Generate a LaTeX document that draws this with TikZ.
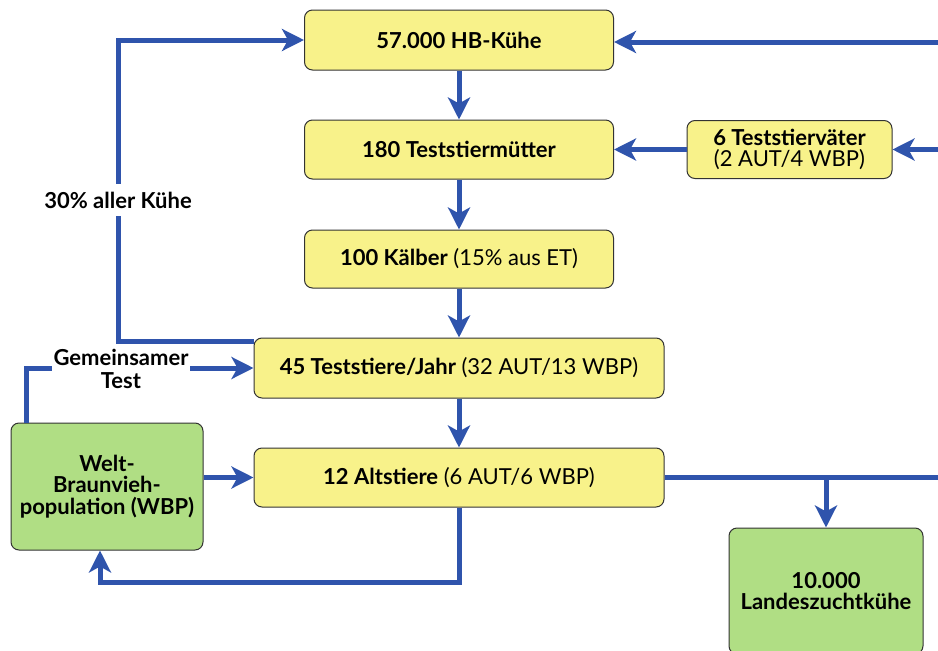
\documentclass[tikz,border=0pt]{standalone}
\usepackage{fontspec}
\setmainfont{Lato}
\usetikzlibrary{arrows.meta,positioning}
\definecolor{hbgelb}{RGB}{248,242,138}
\definecolor{hbgruen}{RGB}{176,222,132}
\definecolor{hbblau}{RGB}{47,84,172}

\begin{document}
\begin{tikzpicture}[x=1pt,y=-1pt,
    box/.style={draw=black!80, line width=1pt, rounded corners=8pt, fill=hbgelb,
      align=center, inner sep=0pt, font=\fontsize{22}{21}\selectfont},
    boldbox/.style={box, font=\fontsize{22}{21.5}\selectfont\bfseries},
    greenbox/.style={boldbox, fill=hbgruen},
    flow/.style={draw=hbblau, line width=5pt, -{Stealth[length=22pt,width=22pt,inset=6pt]}},
    plainflow/.style={draw=hbblau, line width=5pt},
    note/.style={fill=white, align=center, inner sep=2pt,
      font=\fontsize{22}{23}\selectfont\bfseries}]
    \useasboundingbox (0,0) rectangle (938,651);
    \clip (0,0) rectangle (938,651);

    % Kaskade in der Mitte
    \node[boldbox, minimum width=309pt, minimum height=60pt] (kuehe) at (459,40) {57.000 HB-Kühe};
    \node[boldbox, minimum width=309pt, minimum height=59pt] (muetter) at (459,149.5) {180 Teststiermütter};
    \node[box, minimum width=309pt, minimum height=58pt] (kaelber) at (459,259) {\textbf{100 Kälber} (15\% aus ET)};
    \node[box, minimum width=410pt, minimum height=60pt] (teststiere) at (459,368) {\textbf{45 Teststiere/Jahr} (32 AUT/13 WBP)};
    \node[box, minimum width=410pt, minimum height=59pt] (altstiere) at (459,477.5) {\textbf{12 Altstiere} (6 AUT/6 WBP)};
    \node[box, minimum width=205pt, minimum height=58pt] (vaeter) at (789.5,149.5) {\textbf{6 Teststierväter}\\(2 AUT/4 WBP)};
    \node[greenbox, minimum width=192pt, minimum height=127pt] (welt) at (107,486.5) {Welt-\\Braunvieh-\\population (WBP)};
    \node[greenbox, minimum width=194pt, minimum height=126pt] (landes) at (826,591) {10.000\\Landeszuchtkühe};

    \coordinate (rechtsoben) at (938,42);
    \coordinate (rechtsmitte) at (938,149.5);
    \coordinate (rechtsunten) at (938,477.5);
    \coordinate (knick) at (118,342);
    \coordinate (unten) at (100,582);

    \draw[flow] (rechtsoben) -- (rechtsoben -| kuehe.east);
    \draw[flow] (kuehe) -- (muetter);
    \draw[flow] (muetter) -- (kaelber);
    \draw[flow] (kaelber) -- (teststiere);
    \draw[flow] (teststiere) -- (altstiere);
    \draw[flow] (rechtsmitte) -- (vaeter);
    \draw[flow] (vaeter) -- (muetter);
    \draw[flow] ([yshift=-4pt]teststiere.north west) -| (kuehe.west -| knick) -- (kuehe.west);
    \draw[flow] ([xshift=16pt]welt.north west) |- (teststiere.west);
    \draw[flow] (welt.east |- altstiere) -- (altstiere.west);
    \draw[flow] (altstiere.south) |- (unten) -- (unten |- welt.south);
    \draw[plainflow] (altstiere.east) -- (rechtsunten);
    \draw[flow] (landes.north |- altstiere.east) -- (landes.north);

    \node[note, inner ysep=8pt] (anteil) at (118,200) {30\% aller Kühe};
    \node[note] (gemeinsam) at (121,369) {Gemeinsamer\\Test};
\end{tikzpicture}
\end{document}
